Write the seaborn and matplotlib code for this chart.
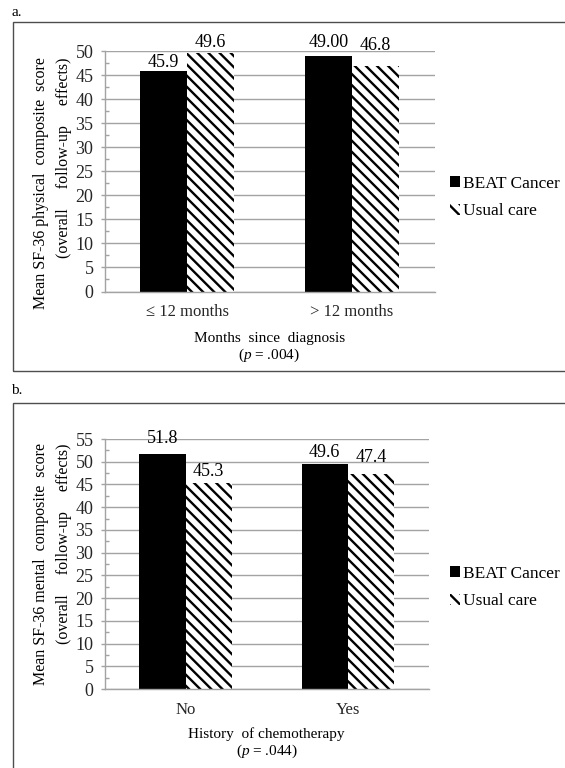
import matplotlib
matplotlib.use("Agg")
import matplotlib.pyplot as plt
from matplotlib.patches import Patch, Rectangle
from matplotlib.ticker import MultipleLocator
import pandas as pd
import seaborn as sns

# ── Data ──
arms = ["BEAT Cancer", "Usual care"]

# panel a: physical composite by months since diagnosis
months_groups = ["\u2264 12 months", "> 12 months"]
physical_beat = [45.9, 49.0]
physical_usual = [49.6, 46.8]
physical_text_beat = ["45.9", "49.00"]
physical_text_usual = ["49.6", "46.8"]

# panel b: mental composite by history of chemotherapy
chemo_groups = ["No", "Yes"]
mental_beat = [51.8, 49.6]
mental_usual = [45.3, 47.4]
mental_text_beat = ["51.8", "49.6"]
mental_text_usual = ["45.3", "47.4"]

# ── Style ──
sns.set_style("white")
plt.rcParams["font.family"] = ["Liberation Serif", "DejaVu Serif"]
plt.rcParams["mathtext.fontset"] = "custom"
plt.rcParams["mathtext.rm"] = "Liberation Serif"
plt.rcParams["mathtext.it"] = "Liberation Serif:italic"
plt.rcParams["hatch.linewidth"] = 1.7
plt.rcParams["text.color"] = "black"

GRID = "#a3a3a3"
HATCH = "\\\\\\"
W, H = 565, 768


def px_x(x):
    return x / W


def px_y(y):
    return 1 - y / H


def draw_panel(ax, groups, beat, usual, text_beat, text_usual, gaps_beat, gaps_usual, ymax):
    df = pd.DataFrame({
        "group": groups * 2,
        "arm": [arms[0]] * len(groups) + [arms[1]] * len(groups),
        "score": beat + usual,
    })
    sns.barplot(data=df, x="group", y="score", hue="arm", order=groups, hue_order=arms,
                palette=["black", "white"], saturation=1, width=0.57, gap=0,
                errorbar=None, legend=False, linewidth=0, edgecolor="black", ax=ax)
    for bar in ax.containers[1]:
        bar.set_hatch(HATCH)
        bar.set_edgecolor("black")
        bar.set_linewidth(0)

    # value labels above bars
    for cont, texts, gaps in [(ax.containers[0], text_beat, gaps_beat),
                              (ax.containers[1], text_usual, gaps_usual)]:
        for bar, s, g in zip(cont, texts, gaps):
            ax.annotate(s, (bar.get_x() + bar.get_width() / 2, bar.get_height()),
                        xytext=(0, g * 0.72), textcoords="offset points",
                        ha="center", va="baseline", fontsize=13, annotation_clip=False)

    ax.set_xlim(-0.5, 1.5)
    ax.set_ylim(0, ymax)
    ax.yaxis.set_major_locator(MultipleLocator(5))
    ax.yaxis.set_minor_locator(MultipleLocator(2.5))
    ax.yaxis.grid(True, color=GRID, linewidth=1.0)
    ax.set_axisbelow(True)
    for side in ["top", "right"]:
        ax.spines[side].set_visible(False)
    for side in ["left", "bottom"]:
        ax.spines[side].set_color(GRID)
        ax.spines[side].set_linewidth(1.0)
    ax.tick_params(axis="y", which="major", direction="out", length=3, width=1,
                   color=GRID, pad=5, labelsize=13, left=True)
    ax.tick_params(axis="y", which="minor", direction="in", length=3, width=1,
                   color=GRID, left=True)
    ax.tick_params(axis="x", length=0, pad=9, labelsize=12)
    ax.set_xlabel("")
    ax.set_ylabel("")


fig = plt.figure(figsize=(W / 100, H / 100), dpi=100)

ax_a = fig.add_axes([px_x(104.5), px_y(291.5), px_x(434.5 - 104.5), (291.5 - 51) / H])
draw_panel(ax_a, months_groups, physical_beat, physical_usual,
           physical_text_beat, physical_text_usual, [3.4, 9], [6, 16], 50)

ax_b = fig.add_axes([px_x(104.5), px_y(689), px_x(428.8 - 104.5), (689 - 439) / H])
draw_panel(ax_b, chemo_groups, mental_beat, mental_usual,
           mental_text_beat, mental_text_usual, [11, 7], [7, 12], 55)

# frames around each panel
fig.add_artist(Rectangle((px_x(12.5), px_y(371.5)), 1.2, (371.5 - 22) / H,
                         transform=fig.transFigure, fill=False,
                         edgecolor="#4d4d4d", linewidth=1.0))
fig.add_artist(Rectangle((px_x(12.5), -0.05), 1.2, 0.05 + (768 - 403) / H,
                         transform=fig.transFigure, fill=False,
                         edgecolor="#4d4d4d", linewidth=1.0))

fig.text(px_x(11), px_y(13), "a.", fontsize=11, ha="left", va="center")
fig.text(px_x(11), px_y(390), "b.", fontsize=11, ha="left", va="center")

# y labels (two lines, top aligned)
fig.text(px_x(41), px_y(57), "Mean SF-36 physical  composite  score", rotation=90,
         rotation_mode="anchor", ha="right", va="center", fontsize=11.5)
fig.text(px_x(64), px_y(57), "(overall     follow-up     effects)", rotation=90,
         rotation_mode="anchor", ha="right", va="center", fontsize=11.5)
fig.text(px_x(41), px_y(443), "Mean SF-36 mental  composite  score", rotation=90,
         rotation_mode="anchor", ha="right", va="center", fontsize=11.5)
fig.text(px_x(64), px_y(443), "(overall     follow-up     effects)", rotation=90,
         rotation_mode="anchor", ha="right", va="center", fontsize=11.5)

# x labels
fig.text(px_x(269.5), px_y(338), "Months  since  diagnosis", ha="center", va="center", fontsize=11)
fig.text(px_x(269.5), px_y(355), "($p$ = .004)", ha="center", va="center", fontsize=11)
fig.text(px_x(266.6), px_y(734), "History  of chemotherapy", ha="center", va="center", fontsize=11)
fig.text(px_x(266.6), px_y(751), "($p$ = .044)", ha="center", va="center", fontsize=11)

# legends
handles = [Patch(facecolor="black", edgecolor="black", linewidth=0),
           Patch(facecolor="white", edgecolor="black", hatch=HATCH, linewidth=0)]
for yc in [197.5, 587.5]:
    fig.legend(handles, arms, loc="center left", bbox_to_anchor=(px_x(450), px_y(yc)),
               frameon=False, fontsize=12.5, handlelength=0.6, handleheight=0.6,
               handletextpad=0.15, labelspacing=0.65, borderpad=0, borderaxespad=0)

fig.savefig("out.png", dpi=100)
